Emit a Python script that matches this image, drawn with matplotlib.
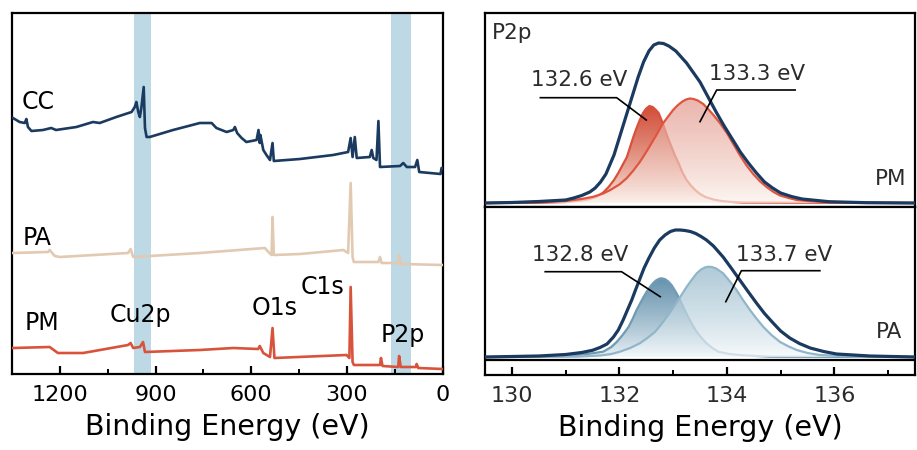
import numpy as np
import matplotlib
matplotlib.use("Agg")
import matplotlib.pyplot as plt
from matplotlib.patches import Polygon
from matplotlib.colors import to_rgb
from matplotlib.ticker import MultipleLocator

# ---- survey spectra (binding energy, intensity a.u.) ----
cc_e = [1347, 1326, 1310, 1305, 1300, 1289, 1253, 1227, 1212, 1148, 1096, 1075, 1023, 975, 965, 960,
        954, 949, 944, 937, 933, 928, 918, 845, 761, 724, 709, 677, 656, 651, 644, 630, 615, 583, 577,
        573, 571, 562, 552, 541, 533, 529, 447, 343, 296, 288, 282, 275, 269, 228, 222, 217, 207, 201,
        196, 133, 123, 112, 86, 79, 73, 6, 3, 0]
cc_i = [256, 252, 251, 255, 247, 243, 244, 246, 244, 247, 252, 251, 257, 262, 267, 272,
        262, 257, 267, 287, 246, 237, 237, 244, 251, 251, 246, 242, 244, 247, 241, 236, 232, 234, 244,
        231, 239, 224, 219, 214, 231, 213, 215, 219, 222, 236, 217, 237, 216, 217, 224, 216, 214, 253,
        207, 208, 211, 207, 207, 214, 202, 200, 206, 206]

pa_e = [1347, 1237, 1232, 1216, 1200, 986, 978, 970, 761, 557, 546, 536, 533, 529, 447, 311, 296,
        288, 282, 278, 201, 196, 191, 139, 136, 131, 0]
pa_i = [121, 122, 124, 118, 117, 121, 125, 117, 121, 126, 122, 119, 157, 119, 120, 124, 121,
        191, 117, 112, 112, 117, 111, 111, 119, 110, 109]

pm_e = [1347, 1232, 1206, 1127, 986, 978, 970, 949, 939, 933, 761, 656, 578, 573, 562, 541, 533, 527,
        301, 292, 288, 282, 278, 196, 193, 188, 139, 136, 131, 83, 81, 76, 0]
pm_i = [26, 27, 21, 21, 29, 31, 26, 27, 32, 22, 24, 26, 25, 28, 21, 17, 46, 16,
        19, 16, 87, 12, 9, 9, 16, 8, 7, 18, 7, 7, 10, 6, 5]

survey_bands = [(915, 968), (99, 162)]

# ---- P2p high resolution, PM ----
pm_env_e = [129.5, 130.0, 130.5, 131.0, 131.15, 131.3, 131.45, 131.55, 131.65, 131.75, 131.9, 132.05,
            132.2, 132.35, 132.45, 132.55, 132.64, 132.73, 132.82, 132.92, 133.05, 133.25, 133.5,
            133.65, 133.8, 133.95, 134.1, 134.25, 134.4, 134.55, 134.7, 134.85, 135.0, 135.2, 135.4,
            135.9, 136.6, 137.5]
pm_env = [0, 0.5, 1.5, 3, 5, 7.5, 11, 15, 21, 29, 48, 74,
          100, 126, 141, 152, 158, 160, 159.5, 157, 152, 140, 121,
          106, 91, 77, 64, 51, 40, 30, 21, 15, 10, 6.5, 4,
          1.3, 0.3, 0]
pm_c1_e = [129.5, 130.5, 131.0, 131.3, 131.45, 131.58, 131.7, 131.8, 131.9, 131.98, 132.06, 132.14,
           132.2, 132.26, 132.32, 132.38, 132.44, 132.5, 132.56, 132.62, 132.68, 132.73, 132.79,
           132.85, 132.91, 132.97, 133.03, 133.1, 133.17, 133.25, 133.33, 133.41, 133.5, 133.6,
           133.75, 133.9, 134.1, 134.3, 137.5]
pm_c1 = [0, 0.3, 1, 2.5, 4, 6.3, 10.5, 16, 23, 30, 38, 46,
         56, 66, 75, 83, 90, 94.5, 97, 96, 93, 90, 82,
         73, 64, 56, 48, 40, 31, 23, 17.5, 13, 9, 6,
         3.5, 2, 1, 0.5, 0]
pm_c2_e = [129.5, 130.5, 131.0, 131.3, 131.52, 131.7, 131.83, 132.0, 132.14, 132.26, 132.38, 132.5,
           132.6, 132.7, 132.79, 132.9, 133.0, 133.08, 133.16, 133.24, 133.31, 133.38, 133.46,
           133.56, 133.65, 133.75, 133.87, 134.0, 134.12, 134.24, 134.36, 134.49, 134.62, 134.74,
           134.87, 134.99, 135.15, 135.3, 135.55, 135.8, 136.5, 137.5]
pm_c2 = [0, 0.5, 2, 4, 6.3, 9.5, 13, 18.5, 25, 32.5, 41, 51,
         60, 69, 78, 86, 93, 97.5, 101, 103.5, 104.5, 104, 102.5,
         99, 94, 88, 80, 70, 59, 48, 38, 29, 21.5, 16,
         11, 7.5, 5, 3, 1.8, 1, 0.2, 0]

# ---- P2p high resolution, PA ----
pa_env_e = [129.5, 130.5, 131.0, 131.3, 131.5, 131.64, 131.77, 131.89, 131.98, 132.07, 132.15, 132.23,
            132.3, 132.38, 132.46, 132.55, 132.65, 132.75, 132.85, 132.95, 133.04, 133.13, 133.22,
            133.32, 133.42, 133.52, 133.62, 133.75, 133.93, 134.08, 134.24, 134.4, 134.55, 134.7,
            134.86, 135.0, 135.17, 135.35, 135.55, 135.8, 136.04, 136.66, 137.5]
pa_env = [0, 1, 2.5, 4.5, 6.7, 9.5, 13, 20, 27, 37, 47, 57,
          67, 78, 89, 99, 109, 117, 122, 125.5, 127, 127, 126.5,
          125.5, 123.5, 120.5, 117, 111, 100, 89, 77, 65, 54, 43.5,
          34, 26, 19, 13.5, 9, 5.5, 3, 1, 0]
pa_c1_e = [129.5, 130.5, 131.0, 131.4, 131.7, 131.85, 131.95, 132.06, 132.17, 132.25, 132.32, 132.39,
           132.45, 132.51, 132.57, 132.63, 132.68, 132.74, 132.79, 132.85, 132.91, 132.97, 133.05,
           133.13, 133.2, 133.28, 133.36, 133.44, 133.53, 133.62, 133.73, 133.84, 134.05, 134.3,
           134.8, 137.5]
pa_c1 = [0, 0.3, 1, 3, 5.3, 10, 15, 22, 30, 38.5, 47, 54,
         60, 65.5, 70, 74, 76.5, 78.3, 78.7, 77.8, 75.5, 72, 65,
         57, 48.5, 40, 32, 25, 19, 13.7, 9, 5.3, 3, 1.7,
         0.3, 0]
pa_c2_e = [129.5, 130.5, 131.2, 131.64, 131.85, 132.01, 132.2, 132.38, 132.52, 132.66, 132.77, 132.88,
           132.98, 133.07, 133.16, 133.25, 133.35, 133.44, 133.52, 133.59, 133.65, 133.72, 133.8,
           133.93, 134.05, 134.18, 134.3, 134.43, 134.55, 134.68, 134.83, 134.99, 135.15, 135.3,
           135.5, 135.73, 136.4, 137.5]
pa_c2 = [0, 0.1, 0.3, 1.5, 3, 5.3, 9, 13.7, 19, 25, 32, 40,
         47.5, 55, 62.5, 70, 77.5, 83.7, 87.5, 89.5, 90.3, 90, 88.5,
         83.7, 76, 67, 57, 47, 38.5, 30, 22, 15, 10.5, 7,
         4, 2, 0.3, 0]

NAVY = '#1b3a60'
plt.rcParams['font.family'] = 'DejaVu Sans'
plt.rcParams['axes.linewidth'] = 1.6


def gradient_fill(ax, x, y, c_top, c_bot, y_top, alpha, z):
    x = np.asarray(x, float)
    y = np.asarray(y, float)
    verts = np.vstack([np.column_stack([x, y]), [[x[-1], 0], [x[0], 0]]])
    clip = Polygon(verts, closed=True, facecolor='none', edgecolor='none', transform=ax.transData)
    ax.add_patch(clip)
    t = np.linspace(0, 1, 256)[:, None] ** 0.8
    top, bot = np.array(to_rgb(c_top)), np.array(to_rgb(c_bot))
    img = (bot + (top - bot) * t)[:, None, :]
    im = ax.imshow(img, extent=[x.min(), x.max(), 0, y_top], origin='lower', aspect='auto',
                   alpha=alpha, zorder=z, interpolation='bilinear')
    im.set_clip_path(clip)


fig = plt.figure(figsize=(9.17, 4.5), dpi=100)

# ---------------- survey panel ----------------
ax = fig.add_axes([12 / 917, 76 / 450, 430.5 / 917, 361 / 450])
for lo, hi in survey_bands:
    ax.axvspan(lo, hi, color='#bdd9e5', lw=0, zorder=0)
ax.plot(cc_e, cc_i, color=NAVY, lw=1.9, zorder=3)
ax.plot(pa_e, pa_i, color='#e2cab2', lw=1.9, zorder=3)
ax.plot(pm_e, pm_i, color='#d8533b', lw=1.9, zorder=3)
ax.set_xlim(1350, 0)
ax.set_ylim(0, 361)
ax.set_yticks([])
ax.xaxis.set_major_locator(MultipleLocator(300))
ax.xaxis.set_minor_locator(MultipleLocator(150))
ax.tick_params(axis='x', which='major', direction='in', length=6, width=1.6, labelsize=16, pad=8)
ax.tick_params(axis='x', which='minor', direction='in', length=3.5, width=1.4)
ax.set_xlabel('Binding Energy (eV)', fontsize=20.5, labelpad=6)

fs = 17
ax.text(1319, 272, 'CC', fontsize=fs, va='center', ha='left')
ax.text(1316, 136, 'PA', fontsize=fs, va='center', ha='left')
ax.text(1310, 51, 'PM', fontsize=fs, va='center', ha='left')
ax.text(946, 59, 'Cu2p', fontsize=fs, va='center', ha='center')
ax.text(525, 66, 'O1s', fontsize=fs, va='center', ha='center')
ax.text(375, 87, 'C1s', fontsize=fs, va='center', ha='center')
ax.text(124, 39, 'P2p', fontsize=fs, va='center', ha='center')

# ---------------- P2p panels ----------------
ax_t = fig.add_axes([485 / 917, (450 - 206.7) / 450, 430 / 917, 193.7 / 450])
ax_b = fig.add_axes([485 / 917, 75 / 450, 430 / 917, 168.3 / 450])

# PM
gradient_fill(ax_t, pm_c1_e, pm_c1, '#d24e39', '#f9efe7', 97, 1.0, 1)
ax_t.plot(pm_c1_e, pm_c1, color='#d9503b', lw=1.6, zorder=2)
gradient_fill(ax_t, pm_c2_e, pm_c2, '#e2978b', '#fdf6f0', 104, 0.7, 3)
ax_t.plot(pm_c2_e, pm_c2, color='#e0553f', lw=1.6, zorder=4)
ax_t.plot(pm_env_e, pm_env, color=NAVY, lw=2.3, zorder=5)
ax_t.set_xlim(129.5, 137.5)
ax_t.set_ylim(-3.7, 190)
ax_t.set_xticks([])
ax_t.set_yticks([])

ann = dict(fontsize=15.5, color='#2b2b2b', va='center')
ax_t.text(129.63, 170, 'P2p', ha='left', **ann)
ax_t.text(137.34, 24, 'PM', ha='right', **ann)
ax_t.text(131.25, 123, '132.6 eV', ha='center', **ann)
ax_t.text(134.56, 129, '133.3 eV', ha='center', **ann)
ax_t.plot([130.53, 131.95, 132.5], [105.3, 105.3, 83], color='black', lw=1.2, zorder=6)
ax_t.plot([135.27, 133.81, 133.5], [113, 113, 81.3], color='black', lw=1.2, zorder=6)

# PA
gradient_fill(ax_b, pa_c1_e, pa_c1, '#6793ae', '#eef4f7', 79, 1.0, 1)
ax_b.plot(pa_c1_e, pa_c1, color='#6f9bb4', lw=1.6, zorder=2)
gradient_fill(ax_b, pa_c2_e, pa_c2, '#97bacc', '#f8fbfc', 90, 0.75, 3)
ax_b.plot(pa_c2_e, pa_c2, color='#92b6c9', lw=1.6, zorder=4)
ax_b.plot(pa_env_e, pa_env, color=NAVY, lw=2.3, zorder=5)
ax_b.axhline(-3, color='black', lw=1.6, zorder=6)
ax_b.set_xlim(129.5, 137.5)
ax_b.set_ylim(-18, 150.3)
ax_b.set_yticks([])
ax_b.xaxis.set_major_locator(MultipleLocator(2))
ax_b.xaxis.set_minor_locator(MultipleLocator(1))
ax_b.tick_params(axis='x', which='major', direction='in', length=6, width=1.6, labelsize=16, pad=8,
                 labelcolor='#2b2b2b')
ax_b.tick_params(axis='x', which='minor', direction='in', length=3.5, width=1.4)
ax_b.set_xlabel('Binding Energy (eV)', fontsize=20.5, labelpad=6)

ax_b.text(137.27, 25, 'PA', ha='right', **ann)
ax_b.text(131.28, 102, '132.8 eV', ha='center', **ann)
ax_b.text(135.06, 102, '133.7 eV', ha='center', **ann)
ax_b.plot([130.62, 132.04, 132.76], [85.3, 85.3, 60.3], color='black', lw=1.2, zorder=6)
ax_b.plot([135.73, 134.27, 133.98], [86.3, 86.3, 55.3], color='black', lw=1.2, zorder=6)

fig.savefig('out.png', dpi=100)
